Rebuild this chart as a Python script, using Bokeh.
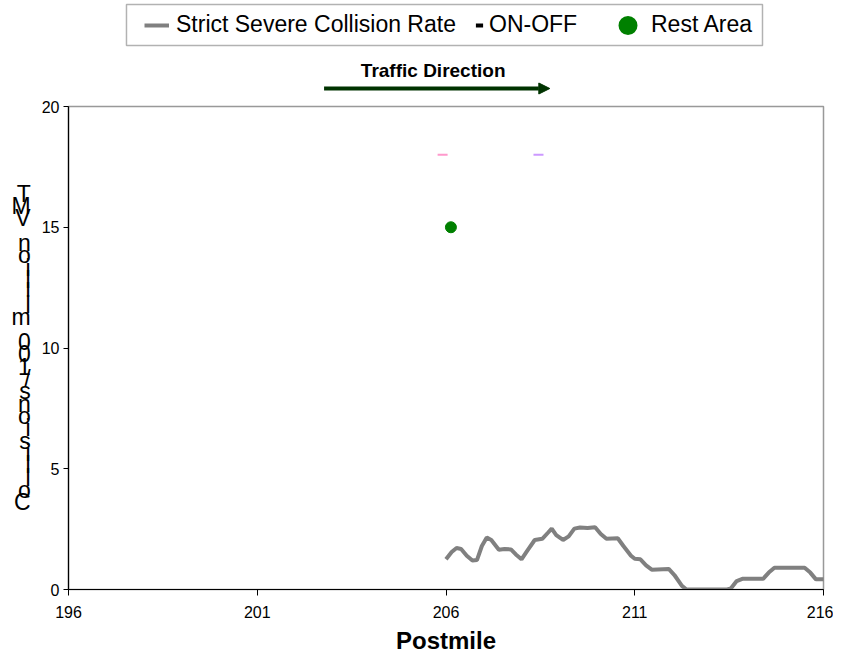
from bokeh.plotting import figure
from bokeh.layouts import column
from bokeh.models import (Legend, LegendItem, FixedTicker, Label, Arrow, NormalHead,
                          ColumnDataSource, Range1d, BoxAnnotation)
from bokeh.embed import file_html
from bokeh.resources import INLINE

# ---- data ----
postmile = [206.0, 206.15, 206.28, 206.4, 206.55, 206.7, 206.82, 206.95, 207.08, 207.2,
            207.4, 207.55, 207.72, 207.85, 208.0, 208.15, 208.35, 208.55, 208.7, 208.8,
            208.92, 209.1, 209.25, 209.4, 209.55, 209.75, 209.95, 210.1, 210.25, 210.55,
            210.7, 210.9, 211.0, 211.15, 211.3, 211.45, 211.9, 212.05, 212.25, 212.37,
            213.45, 213.55, 213.7, 213.85, 214.4, 214.55, 214.7, 215.5, 215.65, 215.8, 216.1]
rate = [1.25, 1.55, 1.72, 1.68, 1.4, 1.2, 1.22, 1.8, 2.15, 2.05,
        1.65, 1.68, 1.66, 1.45, 1.25, 1.6, 2.05, 2.1, 2.35, 2.52,
        2.25, 2.05, 2.2, 2.52, 2.57, 2.55, 2.58, 2.3, 2.1, 2.12,
        1.8, 1.4, 1.27, 1.25, 1.0, 0.82, 0.85, 0.6, 0.15, 0.0,
        0.0, 0.05, 0.35, 0.44, 0.44, 0.7, 0.9, 0.9, 0.7, 0.42, 0.42]
onoff_x = [205.91, 208.45]
onoff_y = [18, 18]
onoff_colors = ["#FF99CC", "#CC99FF"]
rest_x = [206.13]
rest_y = [15]
x_ticks = [196, 201, 206, 211, 216]
y_ticks = [0, 5, 10, 15, 20]
y_label = "Collisions/100 million VMT"
legend_labels = ["Strict Severe Collision Rate", "ON-OFF", "Rest Area"]
direction_start, direction_end = 202.77, 208.75

FONT = "Liberation Sans"
W = 833

# ---------------- header figure (legend + traffic direction) ----------------
top = figure(width=W, height=96, output_backend="svg", toolbar_location=None,
             x_range=Range1d(196, 216), y_range=Range1d(0, 96),
             x_axis_type=None, y_axis_type=None,
             min_border_left=68, min_border_right=10, min_border_top=0, min_border_bottom=0)
top.grid.visible = False
top.outline_line_color = None

# ---------------- main figure ----------------
p = figure(width=W, height=560, output_backend="svg", toolbar_location=None,
           x_range=Range1d(196, 216), y_range=Range1d(0, 20),
           min_border_left=68, min_border_right=10, min_border_top=10, min_border_bottom=67)
p.grid.visible = False
p.outline_line_color = "#999999"
p.outline_line_width = 1.5

for ax in (p.xaxis[0], p.yaxis[0]):
    ax.axis_line_color = "black"
    ax.axis_line_width = 1.2
    ax.major_tick_line_color = "black"
    ax.major_tick_in = 0
    ax.minor_tick_line_color = None
    ax.major_label_text_font = FONT
    ax.major_label_text_font_size = "16px"
    ax.major_label_text_color = "black"

p.xaxis.ticker = FixedTicker(ticks=x_ticks)
p.yaxis.ticker = FixedTicker(ticks=y_ticks)
p.xaxis.major_tick_out = 6
p.yaxis.major_tick_out = 5
p.xaxis.major_label_standoff = 10
p.yaxis.major_label_standoff = 4
p.xaxis.axis_label = "Postmile"
p.xaxis.axis_label_text_font = FONT
p.xaxis.axis_label_text_font_size = "24px"
p.xaxis.axis_label_text_font_style = "bold"
p.xaxis.axis_label_text_color = "black"
p.xaxis.axis_label_standoff = 6

# stacked y-axis label (characters upright, reading bottom to top)
p.yaxis.axis_label = "\n".join(reversed(y_label))
p.yaxis.axis_label_orientation = "horizontal"
p.yaxis.axis_label_text_font = FONT
p.yaxis.axis_label_text_font_size = "23px"
p.yaxis.axis_label_text_font_style = "normal"
p.yaxis.axis_label_text_color = "black"
p.yaxis.axis_label_text_line_height = 0.475
p.yaxis.axis_label_standoff = 8

# rate line
p.line(postmile, rate, line_color="#808080", line_width=4)

# on-off marks
src_onoff = ColumnDataSource(dict(x=onoff_x, y=onoff_y, c=onoff_colors))
p.scatter("x", "y", source=src_onoff, marker="dash", size=10, line_color="c", line_width=2)
# rest area
p.scatter(rest_x, rest_y, marker="circle", size=11, fill_color="#008000", line_color="#008000")

# legend proxies in header (hidden renderers; only their legend glyphs are drawn)
r_line_leg = top.line(postmile, rate, line_color="#808080", line_width=4, visible=False)
r_onoff_leg = top.scatter(onoff_x, onoff_y, marker="dash", size=8, line_color="black",
                          line_width=4, visible=False)
r_rest_leg = top.scatter(rest_x, rest_y, marker="circle", size=8, fill_color="#008000",
                         line_color="#008000", line_width=11, visible=False)

# legend frame box
top.add_layout(BoxAnnotation(left=197.536, right=214.384, bottom=51, top=92,
                             fill_alpha=0, line_color="black", line_width=1.5))


def make_legend(label, renderer, loc, gw, standoff):
    return Legend(items=[LegendItem(label=label, renderers=[renderer])],
                  location=loc, orientation="horizontal",
                  label_text_font=FONT, label_text_font_size="23px", label_text_color="black",
                  glyph_width=gw, glyph_height=20, label_standoff=standoff, padding=0,
                  spacing=0, margin=0, border_line_color=None, background_fill_alpha=0)


top.add_layout(make_legend(legend_labels[0], r_line_leg, (76, 58), 25, 7), "center")
top.add_layout(make_legend(legend_labels[1], r_onoff_leg, (402, 58), 18, 1), "center")
top.add_layout(make_legend(legend_labels[2], r_rest_leg, (547, 58), 25, 11), "center")

# traffic direction
top.add_layout(Arrow(x_start=direction_start, y_start=8, x_end=direction_end, y_end=8,
                     line_color="#003300", line_width=4,
                     end=NormalHead(size=11, fill_color="#003300", line_color="#003300")))
top.add_layout(Label(x=(direction_start + direction_end) / 2 - 0.1, y=26, text="Traffic Direction",
                     text_font=FONT, text_font_size="19px", text_font_style="bold",
                     text_color="black", text_align="center", text_baseline="middle"))

layout = column(top, p, spacing=0)
open("out.html", "w").write(file_html(layout, INLINE))
